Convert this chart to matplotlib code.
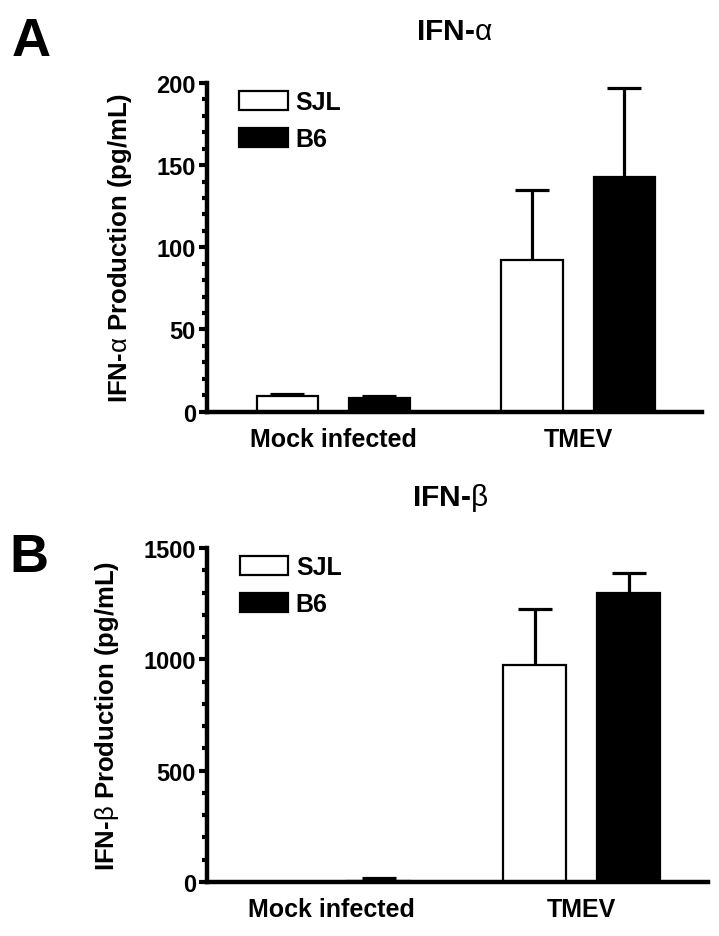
import numpy as np
import matplotlib
matplotlib.use('Agg')
import matplotlib.pyplot as plt
from matplotlib.ticker import MultipleLocator

plt.rcParams['font.family'] = ['Liberation Sans', 'DejaVu Sans']
plt.rcParams['font.weight'] = 'bold'
plt.rcParams['axes.labelweight'] = 'bold'
plt.rcParams['axes.titleweight'] = 'bold'
plt.rcParams['mathtext.fontset'] = 'custom'
plt.rcParams['mathtext.rm'] = 'Liberation Sans:weight=normal'

groups = ['Mock infected', 'TMEV']
strains = ['SJL', 'B6']

# IFN-alpha (pg/mL)
alpha_sjl = [9.5, 92]
alpha_sjl_err = [1.2, 43]
alpha_b6 = [8.3, 143]
alpha_b6_err = [1.0, 54]

# IFN-beta (pg/mL)
beta_sjl = [0, 975]
beta_sjl_err = [0, 250]
beta_b6 = [5, 1297]
beta_b6_err = [12, 92]


def panel(ax, sjl, sjl_err, b6, b6_err, ymax, major, minor, greek, xlim):
    x = np.arange(len(groups))
    off = 0.188
    w = 0.25
    ekw = dict(elinewidth=2.3, capthick=2.3, ecolor='black')
    for vals, errs, fc, off_x, lab in [(sjl, sjl_err, 'white', -off, strains[0]),
                                       (b6, b6_err, 'black', off, strains[1])]:
        bars = ax.bar(x + off_x, vals, w, color=fc, edgecolor='black', linewidth=1.6,
                      yerr=[np.zeros(len(vals)), errs], capsize=12, error_kw=ekw,
                      label=lab, zorder=2)
        # only the upper cap is shown
        bars.errorbar.lines[1][0].set_visible(False)

    ax.set_xlim(*xlim)
    ax.set_ylim(0, ymax)
    ax.spines['top'].set_visible(False)
    ax.spines['right'].set_visible(False)
    ax.spines['left'].set_linewidth(3.2)
    ax.spines['bottom'].set_linewidth(3.2)
    ax.yaxis.set_major_locator(MultipleLocator(major))
    ax.yaxis.set_minor_locator(MultipleLocator(minor))
    ax.tick_params(axis='y', which='major', length=6, width=3, labelsize=17, pad=2)
    ax.tick_params(axis='y', which='minor', length=3.5, width=3)
    ax.set_xticks(x)
    ax.set_xticklabels(groups, fontsize=18)
    ax.tick_params(axis='x', length=0, pad=11)
    ax.set_ylabel('IFN-$\\mathrm{\\%s}$ Production (pg/mL)' % greek, fontsize=18.5, labelpad=16)
    ax.legend(loc='upper left', bbox_to_anchor=(0.045, 1.008), frameon=False,
              fontsize=18, handlelength=1.95, handleheight=0.8,
              handletextpad=0.3, labelspacing=0.5, borderaxespad=0)


fig = plt.figure(figsize=(7.19, 9.37), dpi=100)
ax1 = fig.add_axes([0.288, 0.5596, 0.688, 0.3508])
ax2 = fig.add_axes([0.288, 0.0576, 0.697, 0.3565])

panel(ax1, alpha_sjl, alpha_sjl_err, alpha_b6, alpha_b6_err, 200, 50, 10, 'alpha',
      (-0.515, 1.505))
panel(ax2, beta_sjl, beta_sjl_err, beta_b6, beta_b6_err, 1500, 500, 100, 'beta',
      (-0.498, 1.506))

ax1.set_title('IFN-$\\mathrm{\\alpha}$', fontsize=21.5, pad=32)
ax2.set_title('IFN-$\\mathrm{\\beta}$', fontsize=21.5, pad=31, x=0.484)
ax1.text(-0.355, 1.128, 'A', transform=ax1.transAxes, fontsize=39,
         fontweight='bold', ha='center', va='center')
ax2.text(-0.355, 0.973, 'B', transform=ax2.transAxes, fontsize=39,
         fontweight='bold', ha='center', va='center')

fig.savefig('out.png', dpi=100)
